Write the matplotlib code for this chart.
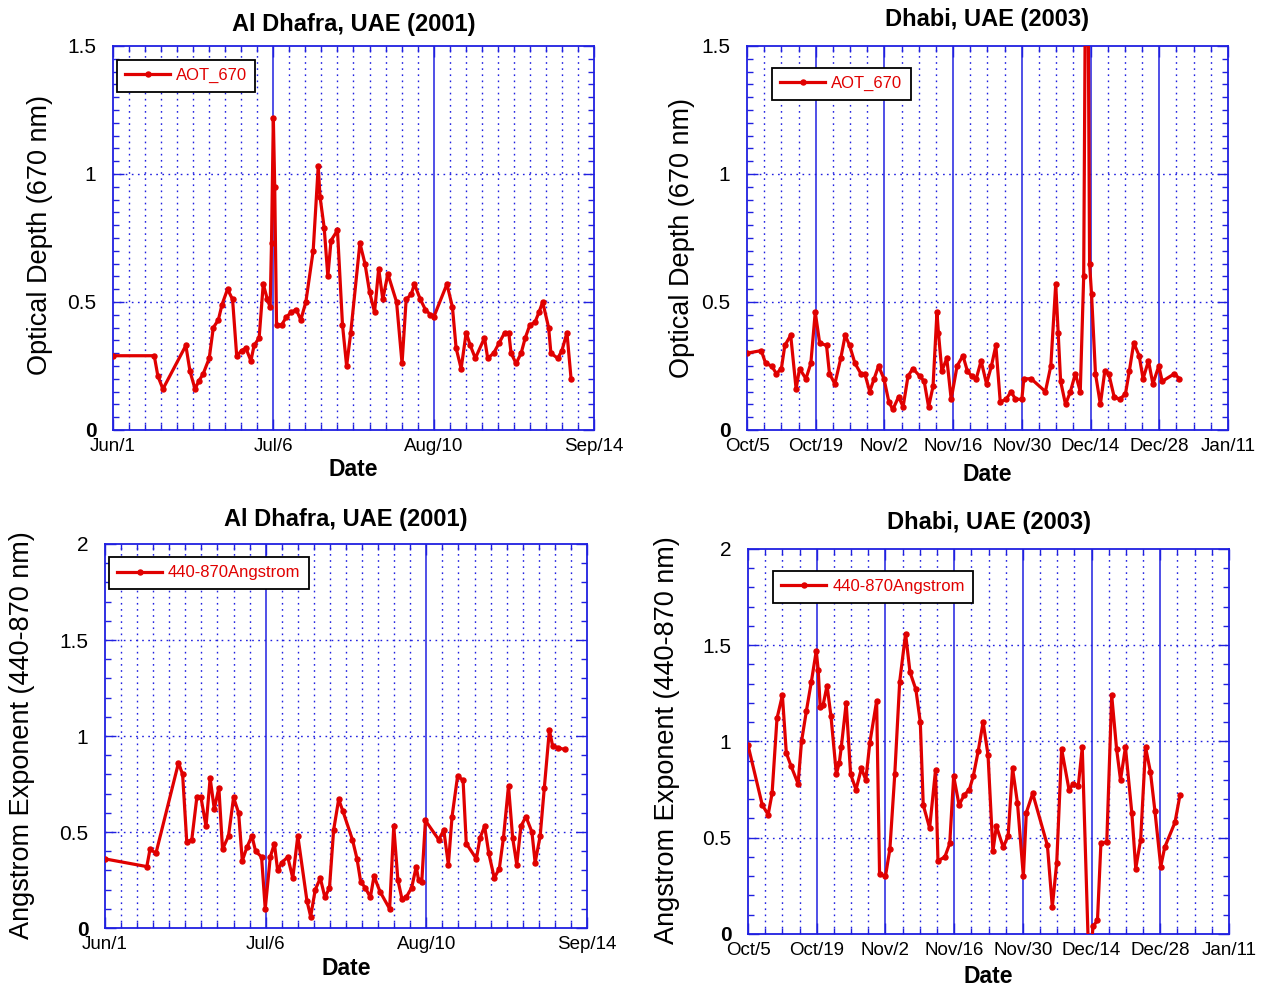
import numpy as np
import matplotlib.pyplot as plt
from matplotlib.ticker import MultipleLocator

plt.rcParams['font.family'] = ['Liberation Sans', 'DejaVu Sans']

# ---- Al Dhafra 2001, days counted from Jun 1 ----
aot01_day = [0, 9, 9.8, 10.9, 15.9, 16.8, 17.9, 18.7, 19.7, 21.0,
             21.9, 23.0, 23.8, 25.0, 26.1, 27.0, 28.1, 29.0, 30.1, 30.8,
             31.9, 32.8, 33.7, 34.3, 34.6, 35.0, 35.3, 35.7, 36.8, 37.8,
             38.9, 40.0, 41.0, 42.1, 43.7, 44.8, 45.2, 46.1, 46.9, 47.6,
             49.0, 50.1, 51.0, 51.9, 53.9, 55.0, 56.0, 57.1, 58.0, 58.9,
             60.0, 61.9, 63.1, 64.0, 65.1, 65.8, 67.1, 68.2, 69.3, 70.0,
             72.9, 74.1, 74.9, 76.0, 77.1, 78.0, 79.1, 81.1, 81.8, 83.1,
             84.3, 85.5, 86.4, 86.9, 88.0, 89.1, 90.0, 91.0, 92.1, 93.0,
             93.8, 95.1, 95.6, 97.1, 98.0, 99.1, 100.0]
aot01 = [0.29, 0.29, 0.21, 0.16, 0.33, 0.23, 0.16, 0.19, 0.22, 0.28,
         0.40, 0.43, 0.49, 0.55, 0.51, 0.29, 0.31, 0.32, 0.27, 0.33,
         0.36, 0.57, 0.51, 0.48, 0.73, 1.22, 0.95, 0.41, 0.41, 0.44,
         0.46, 0.47, 0.43, 0.50, 0.70, 1.03, 0.91, 0.79, 0.60, 0.74,
         0.78, 0.41, 0.25, 0.38, 0.73, 0.65, 0.54, 0.46, 0.63, 0.51,
         0.61, 0.50, 0.26, 0.51, 0.53, 0.57, 0.51, 0.47, 0.45, 0.44,
         0.57, 0.48, 0.32, 0.24, 0.38, 0.33, 0.28, 0.36, 0.28, 0.30,
         0.34, 0.38, 0.38, 0.30, 0.26, 0.30, 0.36, 0.41, 0.42, 0.46,
         0.50, 0.40, 0.30, 0.28, 0.31, 0.38, 0.20]

ae01_day = [0, 9.1, 9.8, 11.1, 16.0, 16.9, 17.8, 18.9, 20.0, 20.9,
            22.0, 22.9, 23.8, 24.8, 25.6, 26.9, 28.0, 29.1, 29.9, 30.9,
            32.0, 32.8, 34.1, 34.9, 36.0, 36.9, 37.6, 38.5, 39.8, 40.9,
            42.0, 44.0, 44.8, 45.8, 46.9, 47.9, 48.9, 49.8, 50.9, 51.8,
            53.9, 54.9, 55.7, 56.7, 57.8, 58.6, 59.9, 62.0, 62.9, 63.8,
            64.7, 65.6, 66.8, 67.8, 68.3, 69.0, 69.8, 72.7, 73.8, 74.8,
            75.6, 76.8, 78.0, 78.7, 80.9, 81.7, 82.7, 83.6, 84.8, 85.9,
            86.8, 87.9, 88.8, 89.7, 90.6, 91.7, 93.0, 93.7, 94.8, 95.7,
            96.8, 97.5, 98.6, 100.1]
ae01 = [0.36, 0.32, 0.41, 0.39, 0.86, 0.80, 0.45, 0.46, 0.68, 0.68,
        0.53, 0.78, 0.62, 0.73, 0.41, 0.48, 0.68, 0.60, 0.35, 0.42,
        0.48, 0.40, 0.37, 0.10, 0.37, 0.44, 0.30, 0.34, 0.37, 0.26,
        0.48, 0.14, 0.06, 0.20, 0.26, 0.16, 0.21, 0.51, 0.67, 0.61,
        0.46, 0.36, 0.24, 0.21, 0.16, 0.27, 0.19, 0.10, 0.53, 0.25,
        0.15, 0.16, 0.21, 0.32, 0.25, 0.24, 0.56, 0.46, 0.51, 0.33,
        0.58, 0.79, 0.77, 0.44, 0.36, 0.47, 0.53, 0.39, 0.26, 0.31,
        0.47, 0.74, 0.47, 0.33, 0.53, 0.58, 0.50, 0.34, 0.48, 0.73,
        1.03, 0.95, 0.94, 0.93]

# ---- Dhabi 2003, days counted from Oct 5 ----
aot03_day = [0, 2.9, 3.8, 5.0, 6.0, 7.0, 7.7, 8.9, 10.0, 10.7,
             12.0, 13.0, 13.9, 14.8, 16.2, 16.8, 17.9, 19.1, 20.0, 20.9,
             22.0, 23.2, 24.0, 25.0, 25.9, 26.8, 27.9, 28.9, 29.7, 30.9,
             31.8, 32.8, 33.8, 35.2, 36.1, 37.0, 37.9, 38.7, 39.0, 39.7,
             40.7, 41.6, 42.8, 44.0, 44.9, 45.8, 46.7, 47.7, 48.8, 49.8,
             50.7, 51.6, 52.8, 53.8, 54.7, 56.0, 56.4, 57.9, 60.8, 61.9,
             62.9, 63.4, 63.9, 64.9, 65.9, 66.9, 67.9, 68.6, 69.0, 69.5,
             69.8, 70.2, 71.0, 72.0, 72.9, 73.7, 74.8, 75.9, 77.1, 77.9,
             78.8, 79.9, 80.7, 81.8, 82.7, 83.9, 84.6, 87.1, 88.1]
aot03 = [0.30, 0.31, 0.26, 0.25, 0.22, 0.24, 0.33, 0.37, 0.16, 0.24,
         0.20, 0.26, 0.46, 0.34, 0.33, 0.22, 0.18, 0.28, 0.37, 0.33,
         0.26, 0.22, 0.22, 0.15, 0.20, 0.25, 0.20, 0.11, 0.08, 0.13,
         0.09, 0.21, 0.24, 0.21, 0.19, 0.09, 0.17, 0.46, 0.38, 0.23,
         0.28, 0.12, 0.25, 0.29, 0.23, 0.21, 0.20, 0.27, 0.18, 0.25,
         0.33, 0.11, 0.12, 0.15, 0.12, 0.12, 0.20, 0.20, 0.15, 0.25,
         0.57, 0.38, 0.19, 0.10, 0.15, 0.22, 0.15, 0.60, 1.90, 1.70,
         0.65, 0.53, 0.22, 0.10, 0.23, 0.22, 0.13, 0.12, 0.14, 0.23,
         0.34, 0.29, 0.20, 0.27, 0.18, 0.25, 0.19, 0.22, 0.20]

ae03_day = [0, 2.9, 4.1, 4.9, 5.9, 7.0, 7.8, 8.8, 10.2, 10.9,
            11.9, 12.9, 13.9, 14.3, 14.7, 15.3, 16.1, 16.9, 18.0, 18.6,
            19.0, 20.0, 20.9, 22.0, 23.1, 24.0, 24.8, 26.2, 26.8, 28.0,
            28.9, 29.9, 30.9, 32.1, 33.0, 34.2, 35.1, 35.7, 37.0, 38.2,
            38.7, 40.1, 41.1, 41.9, 43.0, 44.0, 45.1, 45.9, 46.9, 47.9,
            48.9, 49.9, 50.6, 52.0, 53.0, 53.9, 54.9, 56.1, 56.7, 58.0,
            61.0, 62.0, 62.9, 63.9, 65.4, 66.3, 67.3, 68.1, 69.5, 70.3,
            71.2, 71.9, 73.1, 74.1, 75.1, 75.9, 76.9, 78.2, 79.0, 80.0,
            81.0, 82.0, 82.9, 84.1, 84.9, 87.0, 88.0]
ae03 = [0.98, 0.67, 0.62, 0.73, 1.12, 1.24, 0.94, 0.87, 0.78, 1.00,
        1.16, 1.31, 1.47, 1.37, 1.18, 1.19, 1.29, 1.13, 0.83, 0.89,
        0.97, 1.20, 0.83, 0.75, 0.86, 0.80, 0.99, 1.21, 0.31, 0.30,
        0.44, 0.83, 1.31, 1.56, 1.36, 1.27, 1.10, 0.67, 0.55, 0.85,
        0.38, 0.40, 0.47, 0.82, 0.67, 0.72, 0.75, 0.82, 0.95, 1.10,
        0.93, 0.43, 0.56, 0.45, 0.51, 0.86, 0.68, 0.30, 0.63, 0.73,
        0.46, 0.14, 0.37, 0.96, 0.75, 0.78, 0.77, 0.97, -0.20, 0.04,
        0.07, 0.47, 0.48, 1.24, 0.96, 0.80, 0.97, 0.63, 0.34, 0.49,
        0.97, 0.84, 0.64, 0.35, 0.45, 0.58, 0.72]

labels01 = ['Jun/1', 'Jul/6', 'Aug/10', 'Sep/14']
labels03 = ['Oct/5', 'Oct/19', 'Nov/2', 'Nov/16', 'Nov/30', 'Dec/14', 'Dec/28', 'Jan/11']

RED = '#e00000'
BLUE = '#2020e0'
DOT = (0, (1.2, 3.2))

fig = plt.figure(figsize=(12.67, 9.88), dpi=100)


def setup(ax, xmax, step, xlabels, ymax, yminor):
    ax.set_xlim(0, xmax)
    ax.set_ylim(0, ymax)
    majors = np.arange(0, xmax + 0.1, step)
    ax.set_xticks(majors)
    ax.set_xticklabels(xlabels, fontsize=13.5)
    ax.xaxis.set_minor_locator(MultipleLocator(3.5))
    yt = np.arange(0, ymax + 0.01, 0.5)
    ax.set_yticks(yt)
    ax.set_yticklabels(['%g' % v for v in yt], fontsize=15)
    ax.get_yticklabels()[0].set_fontweight('bold')
    ax.yaxis.set_minor_locator(MultipleLocator(yminor))
    ax.tick_params(which='both', direction='in', top=True, right=True, colors=BLUE, labelcolor='black')
    ax.tick_params(which='major', length=8, width=1)
    ax.tick_params(which='minor', length=4, width=1)
    ax.tick_params(axis='x', pad=6)
    ax.tick_params(axis='y', pad=12)
    for s in ax.spines.values():
        s.set_color(BLUE)
        s.set_linewidth(1.3)
    # solid lines at major dates, dotted at minor dates and major y
    for xv in majors[1:-1]:
        ax.axvline(xv, color=BLUE, lw=1.1, zorder=1)
    ax.grid(True, axis='x', which='minor', color=BLUE, lw=1.0, ls=DOT)
    for yv in yt[1:-1]:
        ax.axhline(yv, color=BLUE, lw=1.0, ls=DOT, zorder=1)
    ax.set_xlabel('Date', fontsize=16.5, fontweight='bold')


def series(ax, x, y, name, lx, ly):
    ax.plot(x, y, color=RED, lw=2.3, marker='o', ms=3.6, mec=RED, label=name, zorder=3)
    leg = ax.legend(loc='upper left', bbox_to_anchor=(lx, ly), borderaxespad=0,
                    fancybox=False, edgecolor='black', framealpha=1, fontsize=12,
                    handlelength=2.7, handletextpad=0.35, labelcolor=RED, borderpad=0.5)
    leg.get_frame().set_linewidth(1.3)


# top left
ax1 = fig.add_axes([0.0892, 0.5648, 0.3796, 0.3887])
setup(ax1, 105, 35, labels01, 1.5, 0.05)
series(ax1, aot01_day, aot01, 'AOT_670', 0.008, 0.964)
ax1.set_title('Al Dhafra, UAE (2001)', fontsize=17, fontweight='bold', pad=11)
ax1.set_ylabel('Optical Depth (670 nm)', fontsize=19.5)
ax1.yaxis.set_label_coords(-0.125, 0.508)
ax1.xaxis.set_label_coords(0.5, -0.072)

# top right
ax2 = fig.add_axes([0.5896, 0.5648, 0.3796, 0.3887])
setup(ax2, 98, 14, labels03, 1.5, 0.05)
series(ax2, aot03_day, aot03, 'AOT_670', 0.052, 0.943)
ax2.set_title('Dhabi, UAE (2003)', fontsize=17, fontweight='bold', pad=14)
ax2.set_ylabel('Optical Depth (670 nm)', fontsize=19.5)
ax2.yaxis.set_label_coords(-0.108, 0.5)
ax2.xaxis.set_label_coords(0.5, -0.086)

# bottom left
ax3 = fig.add_axes([0.0829, 0.0607, 0.3804, 0.3887])
setup(ax3, 105, 35, labels01, 2.0, 0.1)
series(ax3, ae01_day, ae01, '440-870Angstrom', 0.008, 0.966)
ax3.set_title('Al Dhafra, UAE (2001)', fontsize=17, fontweight='bold', pad=13)
ax3.set_ylabel('Angstrom Exponent (440-870 nm)', fontsize=19.5)
ax3.yaxis.set_label_coords(-0.145, 0.503)
ax3.xaxis.set_label_coords(0.5, -0.075)

# bottom right
ax4 = fig.add_axes([0.5904, 0.0547, 0.3796, 0.3897])
setup(ax4, 98, 14, labels03, 2.0, 0.1)
series(ax4, ae03_day, ae03, '440-870Angstrom', 0.052, 0.943)
ax4.set_title('Dhabi, UAE (2003)', fontsize=17, fontweight='bold', pad=14)
ax4.set_ylabel('Angstrom Exponent (440-870 nm)', fontsize=19.5)
ax4.yaxis.set_label_coords(-0.141, 0.504)
ax4.xaxis.set_label_coords(0.5, -0.08)

fig.savefig('out.png', dpi=100)
